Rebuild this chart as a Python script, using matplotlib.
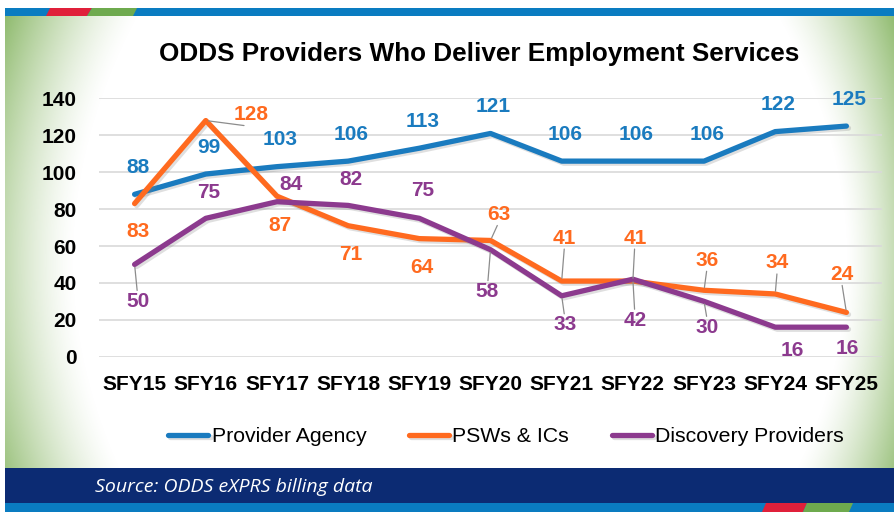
import numpy as np
import matplotlib
matplotlib.use("Agg")
import matplotlib.pyplot as plt
from matplotlib.patches import Rectangle, Polygon
import matplotlib.patheffects as pe

plt.rcParams['font.family'] = ['Liberation Sans', 'DejaVu Sans']

# chart data
years = ["SFY15", "SFY16", "SFY17", "SFY18", "SFY19", "SFY20",
         "SFY21", "SFY22", "SFY23", "SFY24", "SFY25"]
provider_agency = [88, 99, 103, 106, 113, 121, 106, 106, 106, 122, 125]
psws_ics = [83, 128, 87, 71, 64, 63, 41, 41, 36, 34, 24]
discovery = [50, 75, 84, 82, 75, 58, 33, 42, 30, 16, 16]
series_names = ["Provider Agency", "PSWs & ICs", "Discovery Providers"]
y_ticks = [0, 20, 40, 60, 80, 100, 120, 140]

blue = "#1A7BBF"
orange = "#FF6A1F"
purple = "#8C3A8E"

# label placement in pixels (dx, dy downward) and whether a leader line is drawn
blue_lab = [(3, -27, False)] * 11
orange_lab = [(3, 28, False), (45, -6, True), (3, 29, False), (3, 29, False),
              (3, 29, False), (8, -26, True), (3, -43, True), (2, -43, True),
              (3, -30, True), (2, -31, True), (-5, -38, True)]
purple_lab = [(3, 37, True), (3, -26, False), (14, -17, False), (3, -26, False),
              (3, -28, False), (-3, 42, True), (3, 29, True), (2, 41, True),
              (3, 26, True), (17, 23, False), (1, 21, False)]

W, H = 895, 512
fig = plt.figure(figsize=(W / 100, H / 100), dpi=100)

# ---- background decoration ----
bg = fig.add_axes([0, 0, 1, 1], zorder=-5)
bg.set_xlim(0, W)
bg.set_ylim(H, 0)
bg.axis("off")

yy, xx = np.mgrid[0:H, 0:W].astype(float)
shape = ((yy - 260) / 245) ** 2
wl = 70 + 65 * shape
wr = 50 + 70 * shape
a_left = np.clip(1 - (xx - 5) / wl, 0, 1) ** 1.4
a_right = np.clip(1 - (W - xx) / wr, 0, 1) ** 1.4
alpha = np.maximum(a_left, a_right) * (0.5 + 0.45 * shape)
alpha[(yy < 16) | (yy > 468) | (xx < 5)] = 0
img = np.zeros((H, W, 4))
img[..., 0] = 0.54
img[..., 1] = 0.72
img[..., 2] = 0.40
img[..., 3] = alpha
bg.imshow(img, extent=(0, W, H, 0), aspect="auto", interpolation="bilinear")

# top stripe
bg.add_patch(Rectangle((5, 8), W - 5, 8, color="#0A7CC1", lw=0))
bg.add_patch(Polygon([(50, 8), (92, 8), (87, 16), (46, 16)], color="#E0203A", lw=0))
bg.add_patch(Polygon([(92, 8), (137, 8), (133, 16), (87, 16)], color="#6EAA4E", lw=0))
# footer
bg.add_patch(Rectangle((5, 468), W - 5, 35, color="#0C2B73", lw=0))
bg.add_patch(Rectangle((5, 503), W - 5, 9, color="#0A7CC1", lw=0))
bg.add_patch(Polygon([(766, 503), (807, 503), (803, 512), (762, 512)], color="#E0203A", lw=0))
bg.add_patch(Polygon([(807, 503), (853, 503), (849, 512), (803, 512)], color="#6EAA4E", lw=0))
bg.text(95, 487, "Source: ODDS eXPRS billing data", color="white", fontsize=14,
        style="italic", family=["Open Sans", "DejaVu Sans"], va="center", ha="left")

# ---- chart ----
ax = fig.add_axes([99 / W, (H - 356.7) / H, 783 / W, (356.7 - 98.4) / H])
x = np.arange(len(years))
shadow = [pe.SimpleLineShadow(offset=(1.5, -1.5), alpha=0.25, shadow_color="gray"), pe.Normal()]

for vals, col, labs, name in [(provider_agency, blue, blue_lab, series_names[0]),
                              (psws_ics, orange, orange_lab, series_names[1]),
                              (discovery, purple, purple_lab, series_names[2])]:
    ax.plot(x, vals, color=col, lw=3.8, solid_capstyle="round", solid_joinstyle="round",
            label=name, path_effects=shadow, zorder=3)
    for xi, v, (dx, dy, lead) in zip(x, vals, labs):
        ax.annotate(str(v), (xi, v), xytext=(dx, -dy), textcoords="offset pixels",
                    ha="center", va="center", color=col, fontsize=15, fontweight="bold",
                    zorder=5)
        if lead:
            sgn = -1 if dy < 0 else 1
            ax.annotate("", (xi, v), xytext=(dx * 0.85, -(dy - sgn * 11)),
                        textcoords="offset pixels",
                        arrowprops=dict(arrowstyle="-", color="#8C8C8C", lw=0.9,
                                        shrinkA=0, shrinkB=2), zorder=4)

ax.set_xlim(-0.5, len(years) - 0.5)
ax.set_ylim(0, 140)
ax.set_yticks(y_ticks)
ax.set_xticks(x)
ax.set_xticklabels(years)
ax.tick_params(axis="both", length=0, labelsize=15)
ax.tick_params(axis="y", pad=16)
ax.tick_params(axis="x", pad=13)
for lab in ax.get_xticklabels() + ax.get_yticklabels():
    lab.set_fontweight("bold")
ax.grid(axis="y", color="#D9D9D9", lw=1.2)
ax.set_axisbelow(True)
for s in ax.spines.values():
    s.set_visible(False)
ax.patch.set_alpha(0)

fig.text(479 / W, 1 - 54 / H, "ODDS Providers Who Deliver Employment Services",
         ha="center", va="center", fontsize=18.8, fontweight="bold")

fig.legend(loc="center", bbox_to_anchor=(506 / W, 1 - 437 / H), ncol=3, frameon=False,
           fontsize=15.3, handlelength=1.9, handletextpad=0.15, columnspacing=2.0)

fig.savefig("out.png", dpi=100)
